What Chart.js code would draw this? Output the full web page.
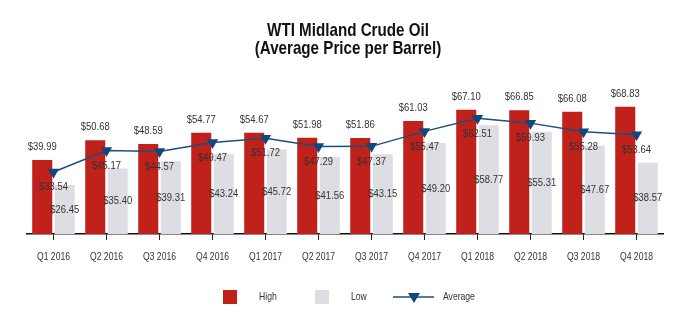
<!DOCTYPE html>
<html>
<head>
<meta charset="utf-8">
<script src="https://cdn.jsdelivr.net/npm/chart.js@4.4.1/dist/chart.umd.min.js"></script>
<style>
  html, body { margin: 0; padding: 0; background: #fff; }
  #wrap { width: 696px; height: 333px; }
</style>
</head>
<body>
<div id="wrap"><canvas id="oilChart" width="696" height="333"></canvas></div>
<script>
const quarters = ["Q1 2016", "Q2 2016", "Q3 2016", "Q4 2016", "Q1 2017", "Q2 2017",
                  "Q3 2017", "Q4 2017", "Q1 2018", "Q2 2018", "Q3 2018", "Q4 2018"];
const highPrices = [39.99, 50.68, 48.59, 54.77, 54.67, 51.98, 51.86, 61.03, 67.10, 66.85, 66.08, 68.83];
const lowPrices = [26.45, 35.40, 39.31, 43.24, 45.72, 41.56, 43.15, 49.20, 58.77, 55.31, 47.67, 38.57];
const avgPrices = [33.54, 45.17, 44.57, 49.47, 51.72, 47.29, 47.37, 55.47, 62.51, 59.93, 55.28, 53.64];
const titleLines = ["WTI Midland Crude Oil", "(Average Price per Barrel)"];

const RED = "#c1211b";
const GREY = "#dddee3";
const NAVY = "#1c4e7e";
const MARKER = "#114879";
const FONT = "'Liberation Sans', Arial, sans-serif";
const SQUEEZE = 0.82; // no narrow face installed, so squeeze the regular one

const money = v => "$" + v.toFixed(2);

function narrowText(ctx, text, x, y) {
  ctx.save();
  ctx.translate(x, y);
  ctx.scale(SQUEEZE, 1);
  ctx.fillText(text, 0, 0);
  ctx.restore();
}

// title, tick labels, value labels and legend are drawn by hand
const decorPlugin = {
  id: "decor",
  afterDatasetsDraw(chart) {
    const ctx = chart.ctx;
    ctx.save();
    ctx.fillStyle = "#333";
    ctx.textAlign = "center";
    ctx.textBaseline = "middle";
    ctx.font = "11.5px " + FONT;

    chart.getDatasetMeta(0).data.forEach((bar, i) => {
      narrowText(ctx, money(highPrices[i]), bar.x, bar.y - 13);
    });
    chart.getDatasetMeta(1).data.forEach((bar, i) => {
      narrowText(ctx, money(lowPrices[i]), bar.x, (bar.y + bar.base) / 2);
    });
    chart.getDatasetMeta(2).data.forEach((pt, i) => {
      narrowText(ctx, money(avgPrices[i]), pt.x, pt.y + 15);
    });
    ctx.restore();
  },
  afterDraw(chart) {
    const ctx = chart.ctx;
    const xs = chart.scales.x;
    ctx.save();
    // title
    ctx.fillStyle = "#111";
    ctx.textAlign = "center";
    ctx.textBaseline = "alphabetic";
    ctx.font = "bold 18.5px " + FONT;
    narrowText(ctx, titleLines[0], 348, 36);
    narrowText(ctx, titleLines[1], 348, 54);

    // category labels
    ctx.fillStyle = "#333";
    ctx.textBaseline = "middle";
    ctx.font = "10.5px " + FONT;
    quarters.forEach((q, i) => narrowText(ctx, q, xs.getPixelForValue(i), 257));

    // legend
    const ly = 297;
    ctx.textAlign = "left";
    ctx.fillStyle = RED;
    ctx.fillRect(223, ly - 7, 14, 14);
    ctx.fillStyle = GREY;
    ctx.fillRect(315, ly - 7, 14, 14);
    ctx.strokeStyle = NAVY;
    ctx.lineWidth = 1.5;
    ctx.beginPath();
    ctx.moveTo(393, ly);
    ctx.lineTo(434, ly);
    ctx.stroke();
    ctx.fillStyle = MARKER;
    ctx.beginPath();
    ctx.moveTo(408, ly - 4);
    ctx.lineTo(420, ly - 4);
    ctx.lineTo(414, ly + 6);
    ctx.closePath();
    ctx.fill();
    ctx.fillStyle = "#333";
    narrowText(ctx, "High", 259, ly);
    narrowText(ctx, "Low", 351, ly);
    narrowText(ctx, "Average", 443, ly);
    ctx.restore();
  }
};

new Chart(document.getElementById("oilChart"), {
  type: "bar",
  data: {
    labels: quarters,
    datasets: [
      { label: "High", data: highPrices, backgroundColor: RED, order: 2 },
      { label: "Low", data: lowPrices, backgroundColor: GREY, order: 2 },
      {
        type: "line", label: "Average", data: avgPrices, order: 1,
        borderColor: NAVY, borderWidth: 1.5, fill: false, tension: 0,
        pointStyle: "triangle", rotation: 180, pointRadius: 6.5,
        pointBackgroundColor: MARKER, pointBorderColor: MARKER, pointBorderWidth: 0
      }
    ]
  },
  options: {
    responsive: false,
    animation: false,
    layout: { padding: { top: 86, left: 27, right: 33, bottom: 0 } },
    datasets: { bar: { categoryPercentage: 0.85, barPercentage: 0.89 } },
    scales: {
      x: {
        afterFit(scale) { scale.height = 99; },
        grid: { display: true, drawOnChartArea: false, offset: false, tickLength: 6, color: "#222", tickWidth: 1 },
        border: { display: true, color: "#111", width: 1.5 },
        ticks: { color: "rgba(0,0,0,0)", font: { family: FONT, size: 10.5 }, padding: 11, maxRotation: 0 }
      },
      y: { display: false, min: 0, max: 80 }
    },
    plugins: {
      legend: { display: false },
      title: { display: false },
      tooltip: { enabled: false }
    }
  },
  plugins: [decorPlugin]
});
</script>
</body>
</html>
